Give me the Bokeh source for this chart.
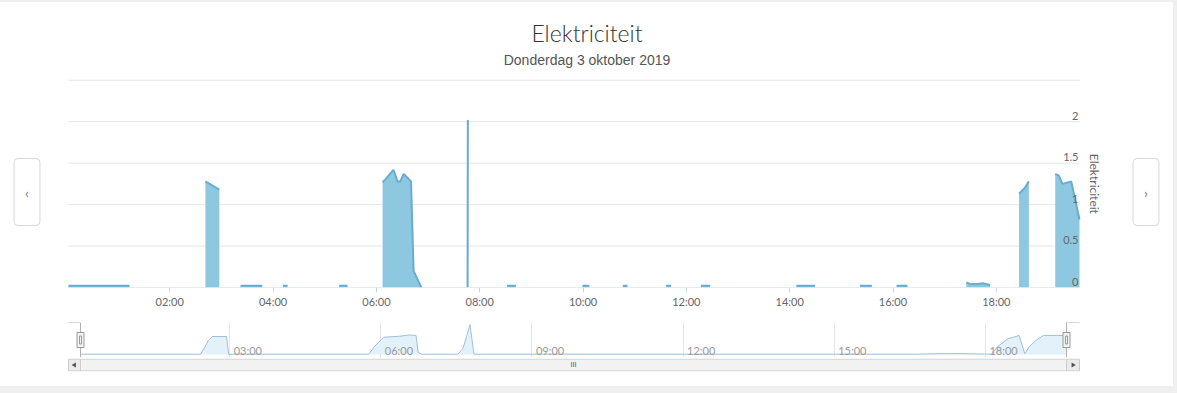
import math
from bokeh.plotting import figure
from bokeh.models import (ColumnDataSource, FixedTicker, Label, LabelSet,
                          Range1d, Grid, Spacer)
from bokeh.layouts import column, row
from bokeh.embed import file_html
from bokeh.resources import INLINE
from bokeh.core.properties import value

# ---------------- data (hours of the day, kW) ----------------
hours = [0.04, 1.22, None,
         2.69, 2.96, None,
         3.37, 3.79, None,
         4.19, 4.28, None,
         5.28, 5.44, None,
         6.12, 6.17, 6.33, 6.41, 6.46, 6.53, 6.67, 6.72, 6.87, None,
         7.765, 7.77, 7.775, None,
         8.53, 8.70, None,
         9.99, 10.12, None,
         10.77, 10.86, None,
         11.61, 11.70, None,
         12.28, 12.46, None,
         14.13, 14.49, None,
         15.36, 15.59, None,
         16.07, 16.28, None,
         17.42, 17.50, 17.65, 17.75, 17.88, None,
         18.44, 18.55, 18.63, None,
         19.14, 19.21, 19.28, 19.45, 19.61]
kw = [0.02, 0.02, None,
      1.28, 1.18, None,
      0.02, 0.02, None,
      0.02, 0.02, None,
      0.02, 0.02, None,
      1.27, 1.30, 1.42, 1.28, 1.28, 1.37, 1.28, 0.20, 0.0, None,
      0.0, 2.0, 2.02, None,
      0.02, 0.02, None,
      0.02, 0.02, None,
      0.02, 0.02, None,
      0.02, 0.02, None,
      0.02, 0.02, None,
      0.02, 0.02, None,
      0.02, 0.02, None,
      0.02, 0.02, None,
      0.06, 0.04, 0.045, 0.05, 0.03, None,
      1.13, 1.20, 1.28, None,
      1.37, 1.35, 1.25, 1.28, 0.82]

x_ticks = [2, 4, 6, 8, 10, 12, 14, 16, 18]
x_tick_labels = ["02:00", "04:00", "06:00", "08:00", "10:00", "12:00",
                 "14:00", "16:00", "18:00"]
y_ticks = [0, 0.5, 1, 1.5, 2]
y_tick_labels = ["0", "0.5", "1", "1.5", "2"]
y_grid = [0.5, 1, 1.5, 2, 2.5]

nav_hours = [0.04, 2.42, 2.50, 2.58, 2.66, 2.94, 2.98,
             5.76, 5.88, 6.06, 6.38, 6.56, 6.70, 6.74, 6.81,
             7.53, 7.63, 7.72, 7.77, 7.85,
             16.6, 17.0, 17.5, 17.98, 18.12, 18.25, 18.45, 18.67, 18.74,
             18.78, 18.88, 19.0, 19.15, 19.55, 19.61]
nav_kw = [0.02, 0.02, 0.45, 0.95, 1.2, 1.2, 0.02,
          0.02, 0.55, 1.15, 1.22, 1.30, 1.27, 0.15, 0.02,
          0.02, 0.40, 1.40, 2.0, 0.02,
          0.02, 0.05, 0.06, 0.03, 0.02, 0.55, 1.05, 1.27, 0.50,
          0.05, 0.55, 0.93, 1.27, 1.27, 1.27]
nav_ticks = [3, 6, 9, 12, 15, 18]
nav_tick_labels = ["03:00", "06:00", "09:00", "12:00", "15:00", "18:00"]

title_text = "Elektriciteit"
subtitle_text = "Donderdag 3 oktober 2019"
y_title = "Elektriciteit"

# ---------------- styling / geometry ----------------
FONT = "Lato"
FILL = "#8ec7e0"
LINE = "#68acd0"
GRID = "#e6e6e6"
AXIS = "#ccd6eb"
GRAY_BG = {"background-color": "#efefef"}
X0, X1 = 0.04, 19.61          # visible time window (hours)
W = 1173                      # chart card width

PXM = 1011.0 / (X1 - X0)      # main plot: pixels per hour
FX0, FX1 = X0 - 68 / PXM, X1 + 94 / PXM
YU = 208 / 2.5                # pixels per kW
Y_END = 2.5 + 78 / YU


def bare(fig):
    fig.outline_line_color = None
    fig.border_fill_color = "white"
    fig.background_fill_color = "white"
    fig.grid.visible = False
    return fig


# split series into segments at the gaps
segs_x, segs_y, cx, cy = [], [], [], []
for h, v in zip(hours, kw):
    if h is None:
        if cx:
            segs_x.append(cx); segs_y.append(cy)
        cx, cy = [], []
    else:
        cx.append(h); cy.append(v)
if cx:
    segs_x.append(cx); segs_y.append(cy)

# ---------------- main chart ----------------
p1 = bare(figure(width=W, height=308, x_range=Range1d(FX0, FX1), y_range=Range1d(0, Y_END),
                 output_backend="svg", toolbar_location=None, y_axis_location=None,
                 min_border_left=0, min_border_right=0, min_border_top=0,
                 min_border_bottom=22, title=None))

xa = p1.xaxis[0]
xa.ticker = FixedTicker(ticks=x_ticks)
xa.major_label_overrides = {t: l for t, l in zip(x_ticks, x_tick_labels)}
xa.axis_line_color = None
xa.major_tick_line_color = AXIS
xa.major_tick_out = 5
xa.major_tick_in = 0
xa.minor_tick_line_color = None
xa.major_label_text_color = "#666666"
xa.major_label_text_font = FONT
xa.major_label_text_font_size = "11px"
xa.major_label_standoff = 2

# horizontal grid lines (only across the plot window)
p1.segment(x0=[X0] * len(y_grid), x1=[X1] * len(y_grid), y0=y_grid, y1=y_grid,
           line_color=GRID, line_width=1)

fill_xs = [sx + [sx[-1], sx[0]] for sx in segs_x]
fill_ys = [sy + [0, 0] for sy in segs_y]
p1.patches(xs=fill_xs, ys=fill_ys, fill_color=FILL, line_color=None)
p1.multi_line(xs=segs_x, ys=segs_y, line_color=LINE, line_width=2)

# x axis line
p1.segment(x0=[X0], x1=[X1], y0=[0], y1=[0], line_color=AXIS, line_width=1)

ysrc = ColumnDataSource(dict(x=[X1] * len(y_ticks), y=y_ticks, t=y_tick_labels))
p1.add_layout(LabelSet(x="x", y="y", text="t", source=ysrc, text_align="right",
                       text_baseline="alphabetic", x_offset=-1, y_offset=2,
                       text_font_size="11px", text_color="#666666",
                       text_font=value(FONT)))
p1.add_layout(Label(x=X1, y=1.25, x_offset=15, text=y_title, angle=-math.pi / 2,
                    text_align="center", text_baseline="middle", text_font=FONT,
                    text_font_size="12px", text_color="#666666"))

# titles (screen units, relative to the frame's bottom-left corner)
p1.add_layout(Label(x=W / 2, y=255, x_units="screen", y_units="screen", text=title_text,
                    text_align="center", text_baseline="alphabetic",
                    text_font="Lato Light", text_font_size="23px", text_color="#333333"))
p1.add_layout(Label(x=W / 2, y=228, x_units="screen", y_units="screen", text=subtitle_text,
                    text_align="center", text_baseline="alphabetic",
                    text_font="Liberation Sans", text_font_size="14px",
                    text_color="#555555"))

# previous / next buttons
for bx, ch in [(26.5, "\u2039"), (1145.5, "\u203a")]:
    p1.add_layout(Label(x=bx, y=95.5, x_units="screen", y_units="screen", text=ch,
                        text_align="center", text_baseline="middle",
                        text_font=FONT, text_font_size="14px", text_color="#777777",
                        background_fill_color="white", border_line_color="#d8d8d8",
                        border_radius=4,
                        padding=dict(left=11, right=11, top=25, bottom=25)))

# ---------------- navigator ----------------
PXN = 986.0 / (X1 - X0)
NX0, NX1 = X0 - 80 / PXN, X1 + (W - 1066) / PXN
NY0, NY1 = -0.2, 2.133
p2 = bare(figure(width=W, height=48, x_range=Range1d(NX0, NX1), y_range=Range1d(NY0, NY1),
                 output_backend="svg", toolbar_location=None, x_axis_location=None,
                 y_axis_location=None, min_border_left=0, min_border_right=0,
                 min_border_top=12, min_border_bottom=1, title=None))
p2.add_layout(Grid(dimension=0, ticker=FixedTicker(ticks=nav_ticks), grid_line_color=GRID))
p2.varea(x=nav_hours, y1=[0] * len(nav_hours), y2=nav_kw, fill_color="#e3f1fa")
p2.line(nav_hours, nav_kw, line_color="#9fc0d6", line_width=1)
nsrc = ColumnDataSource(dict(x=nav_ticks, t=nav_tick_labels, y=[3] * len(nav_ticks)))
p2.add_layout(LabelSet(x="x", y="y", y_units="screen", text="t", source=nsrc,
                       text_align="left", text_baseline="alphabetic", x_offset=4,
                       text_font_size="11px", text_color="#999999",
                       text_font=value(FONT)))
SL, SR = X0 - 12 / PXN, X1 + 13 / PXN
p2.line([SL, X0, X0], [NY1, NY1, NY0], line_color="#b2b2b2", line_width=1)
p2.line([SR, X1, X1], [NY1, NY1, NY0], line_color="#b2b2b2", line_width=1)
hy = (NY0 + NY1) / 2
p2.rect(x=[X0, X1], y=[hy, hy], width=7, height=15, width_units="screen",
        height_units="screen", fill_color="#f2f2f2", line_color="#999999")
p2.rect(x=[X0, X1], y=[hy, hy], width=2, height=8, width_units="screen",
        height_units="screen", fill_color=None, line_color="#999999")

# ---------------- scrollbar ----------------
p3 = bare(figure(width=W, height=28, x_range=p2.x_range, y_range=Range1d(-0.05, 1.05),
                 output_backend="svg", toolbar_location=None, x_axis_location=None,
                 y_axis_location=None, min_border_left=0, min_border_right=0,
                 min_border_top=0, min_border_bottom=15, title=None))
p3.quad(left=[X0], right=[X1], bottom=[0], top=[1], fill_color="#f2f2f2", line_color="#cccccc")
p3.quad(left=[SL, X1], right=[X0, SR], bottom=[0, 0], top=[1, 1],
        fill_color="#ebebeb", line_color="#cccccc")
p3.scatter(x=[(SL + X0) / 2, (X1 + SR) / 2], y=[0.5, 0.5], marker="triangle",
           size=5, angle=[math.pi / 2, -math.pi / 2], fill_color="#555555", line_color=None)
p3.add_layout(Label(x=(X0 + X1) / 2, y=0.5, text="III", text_align="center",
                    text_baseline="middle", text_font="DejaVu Sans", text_font_size="7px",
                    text_color="#555555"))

chart = column(p1, p2, p3)
root = column(Spacer(width=1177, height=2, styles=GRAY_BG),
              row(chart, Spacer(width=4, height=384, styles=GRAY_BG)),
              Spacer(width=1177, height=7, styles=GRAY_BG))
open("out.html", "w").write(file_html(root, INLINE))
